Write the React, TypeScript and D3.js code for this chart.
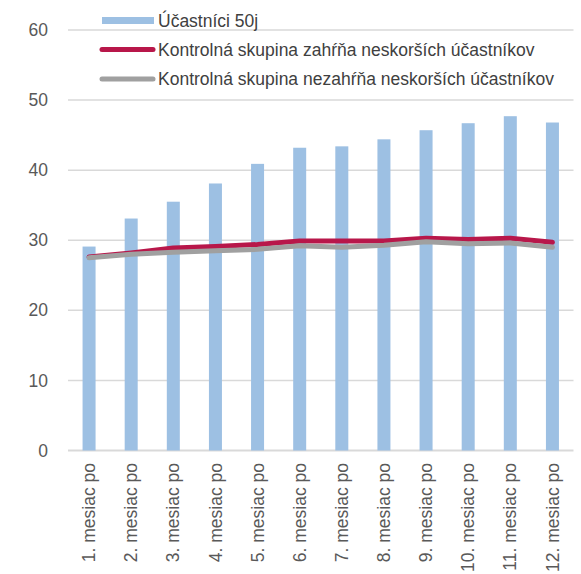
import * as d3 from "d3";

const months = [
  "1. mesiac po",
  "2. mesiac po",
  "3. mesiac po",
  "4. mesiac po",
  "5. mesiac po",
  "6. mesiac po",
  "7. mesiac po",
  "8. mesiac po",
  "9. mesiac po",
  "10. mesiac po",
  "11. mesiac po",
  "12. mesiac po",
];

const participants = [29.1, 33.1, 35.5, 38.1, 40.9, 43.2, 43.4, 44.4, 45.7, 46.7, 47.7, 46.8];
const controlWithLate = [27.6, 28.2, 28.9, 29.1, 29.4, 29.9, 29.9, 29.9, 30.3, 30.1, 30.3, 29.7];
const controlWithoutLate = [27.5, 28.0, 28.3, 28.5, 28.7, 29.2, 29.0, 29.3, 29.8, 29.5, 29.6, 29.0];

const yTicks = [0, 10, 20, 30, 40, 50, 60];

const legendLabels = [
  "Účastníci 50j",
  "Kontrolná skupina zahŕňa neskorších účastníkov",
  "Kontrolná skupina nezahŕňa neskorších účastníkov",
];

const W = 581;
const H = 574;
const font = "'Liberation Sans', Arial, sans-serif";

export default function App() {
  const left = 68;
  const right = 573.5;
  const x = d3.scaleBand<string>().domain(months).range([left, right]);
  const y = d3.scaleLinear().domain([0, 60]).range([450.5, 30]);
  const barW = 13;

  const line = d3
    .line<number>()
    .x((_, i) => (x(months[i]) as number) + x.bandwidth() / 2)
    .y((d) => y(d));

  return (
    <svg
      width={W}
      height={H}
      style={{ position: "absolute", left: 0, top: 0, background: "#fff" }}
      fontFamily={font}
    >
      {yTicks.map((t) => (
        <g key={t}>
          <line
            x1={left}
            x2={right}
            y1={y(t)}
            y2={y(t)}
            stroke="#d9d9d9"
            strokeWidth={t === 0 ? 2 : 1.5}
          />
          <text
            x={48}
            y={y(t)}
            dy="0.35em"
            textAnchor="end"
            fontSize={17.5}
            fill="#595959"
          >
            {t}
          </text>
        </g>
      ))}

      {participants.map((v, i) => (
        <rect
          key={i}
          x={(x(months[i]) as number) + x.bandwidth() / 2 - barW / 2}
          y={y(v)}
          width={barW}
          height={y(0) - y(v)}
          fill="#9dc0e3"
        />
      ))}

      <path
        d={line(controlWithLate) ?? ""}
        fill="none"
        stroke="#b8174a"
        strokeWidth={5}
        strokeLinecap="round"
        strokeLinejoin="round"
      />
      <path
        d={line(controlWithoutLate) ?? ""}
        fill="none"
        stroke="#a0a0a0"
        strokeWidth={5}
        strokeLinecap="round"
        strokeLinejoin="round"
      />

      {months.map((m) => {
        const cx = (x(m) as number) + x.bandwidth() / 2;
        return (
          <text
            key={m}
            transform={`translate(${cx},${463}) rotate(-90)`}
            dy="0.35em"
            textAnchor="end"
            fontSize={17.5}
            fill="#595959"
          >
            {m}
          </text>
        );
      })}

      {/* legend */}
      <rect x={102} y={17} width={52} height={7} fill="#9dc0e3" />
      <line x1={102} x2={153} y1={49.5} y2={49.5} stroke="#b8174a" strokeWidth={5} strokeLinecap="round" />
      <line x1={102} x2={153} y1={79} y2={79} stroke="#a0a0a0" strokeWidth={5} strokeLinecap="round" />
      {legendLabels.map((l, i) => (
        <text
          key={l}
          x={158}
          y={[21, 50, 79][i]}
          dy="0.35em"
          fontSize={17.5}
          fill="#404040"
        >
          {l}
        </text>
      ))}
    </svg>
  );
}
